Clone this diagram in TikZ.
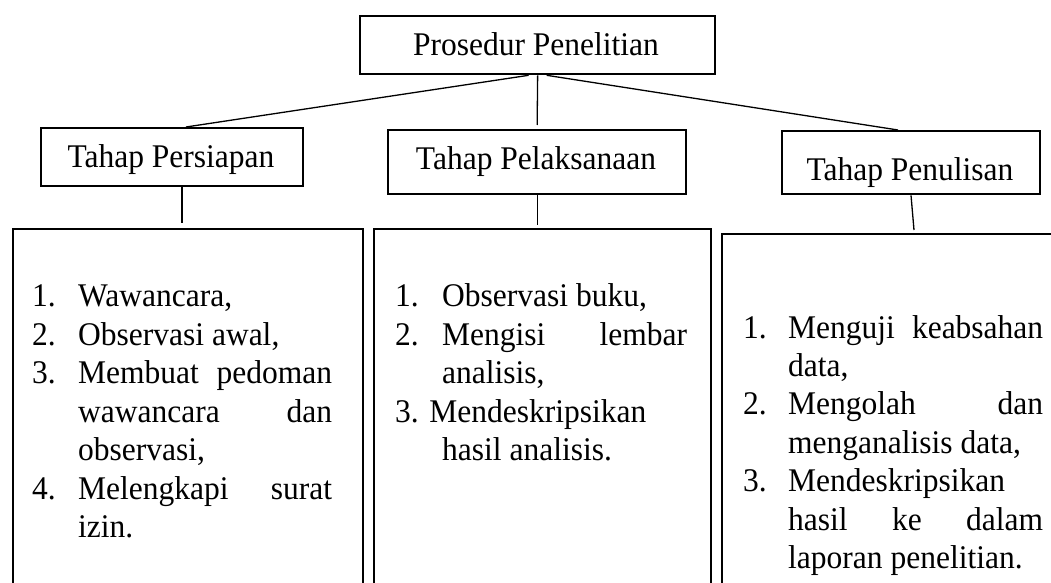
\documentclass[tikz,border=0pt]{standalone}
\usepackage{fontspec}
\setmainfont{Liberation Serif}
\usetikzlibrary{calc}
% text is set very slightly taller than wide
\newcommand\diagfont{\fontsize{31.5bp}{36.6bp}\selectfont}
\newcommand\tall[1]{\scalebox{1}[1.05]{#1}}
\begin{document}
\begin{tikzpicture}[x=1bp, y=-1bp,
  box/.style={draw, line width=2.3bp, inner sep=0pt, anchor=north west},
  link/.style={line width=1.3bp},
  lbl/.style={inner sep=0pt, anchor=base, font=\diagfont},
  lst/.style={inner sep=0pt, anchor=base west, font=\diagfont}
]
\useasboundingbox (0,0) rectangle (1051,583);
\clip (0,0) rectangle (1051,583);

% frames
\node[box, minimum width=355bp, minimum height=58bp] (root) at (359,15) {};
\node[box, minimum width=262bp, minimum height=58bp] (prep) at (40,127) {};
\node[box, minimum width=298bp, minimum height=64bp] (exec) at (387,129) {};
\node[box, minimum width=258bp, minimum height=63bp] (write) at (781,130) {};
\node[box, minimum width=350bp, minimum height=420bp] (prepbox) at (12,228) {};
\node[box, minimum width=337bp, minimum height=420bp] (execbox) at (373,228) {};
\node[box, minimum width=420bp, minimum height=420bp] (writebox) at (721,233) {};

% titles
\node[lbl] (roottxt) at (536,56) {\tall{Prosedur Penelitian}};
\node[lbl] (preptxt) at (171,168) {\tall{Tahap Persiapan}};
\node[lbl] (exectxt) at (536,170) {\tall{Tahap Pelaksanaan}};
\node[lbl] (writetxt) at (910,181) {\tall{Tahap Penulisan}};

% connectors
\coordinate (rl) at ($(root.south)+(-9,0)$);
\coordinate (rr) at ($(root.south)+(9,0)$);
\draw[link] (rl) -- ($(prep.north west)+(146,0)$);
\draw[link] (root.south) -- ($(exec.north)+(0,-4)$);
\draw[link] (rr) -- ($(write.north west)+(117,0)$);
\draw[link] (prep.south -| 182,0) -- ($(prepbox.north -| 182,0)+(0,-5)$);
\draw[link] (exec.south) -- ($(execbox.north -| exec.south)+(0,-3)$);
\draw[link] ($(write.south west)+(130,0)$) -- ($(writebox.north west)+(193,-3)$);

% lists
\node[lst] (steps1) at (32,307) {\tall{\begin{tabular}[t]{@{}p{46bp}@{}l@{}}
1. & Wawancara,\\
2. & Observasi awal,\\
3. & \makebox[254bp][s]{Membuat pedoman}\\
   & \makebox[254bp][s]{wawancara dan}\\
   & observasi,\\
4. & \makebox[254bp][s]{Melengkapi surat}\\
   & izin.
\end{tabular}}};

\node[lst] (steps2) at (395,307) {\tall{\begin{tabular}[t]{@{}p{47bp}@{}l@{}}
1. & Observasi buku,\\
2. & \makebox[245bp][s]{Mengisi lembar}\\
   & analisis,\\
\multicolumn{2}{@{}l@{}}{3. Mendeskripsikan}\\
   & hasil analisis.
\end{tabular}}};

\node[lst] (steps3) at (743,338) {\tall{\begin{tabular}[t]{@{}p{45bp}@{}l@{}}
1. & \makebox[255bp][s]{Menguji keabsahan}\\
   & data,\\
2. & \makebox[255bp][s]{Mengolah dan}\\
   & menganalisis data,\\
3. & Mendeskripsikan\\
   & \makebox[255bp][s]{hasil ke dalam}\\
   & laporan penelitian.
\end{tabular}}};
\end{tikzpicture}
\end{document}
